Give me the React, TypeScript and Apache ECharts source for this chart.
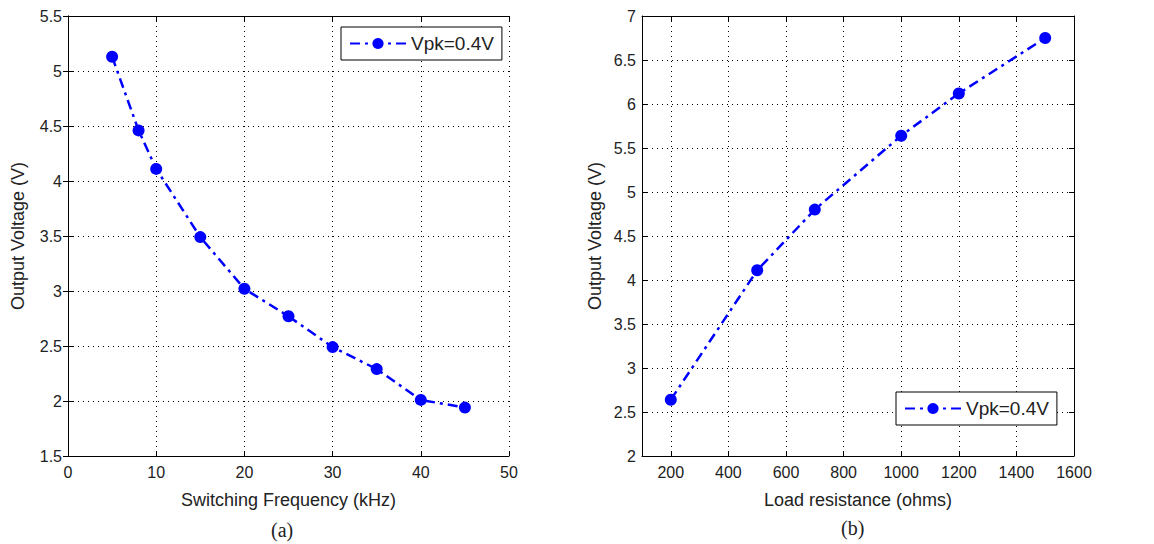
import React, { useEffect, useRef } from "react";
import * as echarts from "echarts";

const freqKHz = [5, 8, 10, 15, 20, 25, 30, 35, 40, 45];
const voltsA = [5.13, 4.46, 4.11, 3.49, 3.02, 2.77, 2.49, 2.29, 2.01, 1.94];
const loadOhms = [200, 500, 700, 1000, 1200, 1500];
const voltsB = [2.64, 4.11, 4.8, 5.64, 6.12, 6.75];
const xTicksB = [200, 400, 600, 800, 1000, 1200, 1400, 1600];
const seriesName = "Vpk=0.4V";

const FONT = "'Liberation Sans', Arial, sans-serif";
const TXT = "#222";

export default function App() {
  const ref = useRef<HTMLDivElement>(null);
  useEffect(() => {
    document.body.style.margin = "0";
    const chart = echarts.init(ref.current!, null, { renderer: "svg" });
    const label = { color: TXT, fontFamily: FONT, fontSize: 16 };
    const fmt = (v: number) => String(v);
    const split = { show: true, lineStyle: { color: "#000", type: [1, 4] as any, width: 1 } };
    const tick = { inside: true, length: 5, lineStyle: { color: "#000" } };
    const line = { lineStyle: { color: "#000", width: 1 } };
    const mainX = (gi: number, min: number, max: number, interval: number | undefined, name: string, extra: any = {}) => ({
      type: "value", gridIndex: gi, min, max, interval, name,
      nameLocation: "middle", nameGap: 35,
      nameTextStyle: { ...label, fontSize: 18 },
      axisLine: line, axisTick: tick, splitLine: split,
      axisLabel: { ...label, margin: 8, formatter: fmt }, ...extra,
    });
    const topX = (gi: number, min: number, max: number, interval: number | undefined, extra: any = {}) => ({
      type: "value", gridIndex: gi, min, max, interval, position: "top",
      axisLine: line, axisTick: tick, splitLine: { show: false }, axisLabel: { show: false }, ...extra,
    });
    const mainY = (gi: number, min: number, max: number, nameGap: number) => ({
      type: "value", gridIndex: gi, min, max, interval: 0.5, name: "Output Voltage (V)",
      nameLocation: "middle", nameGap, nameRotate: 90,
      nameTextStyle: { ...label, fontSize: 18 },
      axisLine: line, axisTick: tick, splitLine: split,
      axisLabel: { ...label, margin: 6, formatter: fmt },
    });
    const rightY = (gi: number, min: number, max: number) => ({
      type: "value", gridIndex: gi, min, max, interval: 0.5, position: "right",
      axisLine: line, axisTick: tick, splitLine: { show: false }, axisLabel: { show: false },
    });
    const seriesStyle = {
      type: "line", name: seriesName, symbol: "circle", symbolSize: 12,
      itemStyle: { color: "#0000ff" },
      lineStyle: { color: "#0000ff", width: 2.5, type: [10, 5, 3, 5] as any },
    };
    const customB = { axisTick: { ...tick, customValues: xTicksB }, axisLabel: { ...label, margin: 8, formatter: fmt, customValues: xTicksB } };
    const legendBase = {
      data: [seriesName], orient: "vertical",
      borderColor: "#000", borderWidth: 1, padding: [7, 8, 7, 8],
      itemWidth: 56, itemHeight: 14, itemGap: 4,
      textStyle: { ...label, fontSize: 19 }, selectedMode: false,
      backgroundColor: "#fff",
    };
    chart.setOption({
      animation: false,
      backgroundColor: "#fff",
      grid: [
        { left: 68, top: 16, width: 441, height: 440 },
        { left: 642, top: 16, width: 432, height: 440 },
      ],
      xAxis: [
        mainX(0, 0, 50, 10, "Switching Frequency (kHz)"),
        topX(0, 0, 50, 10),
        mainX(1, 100, 1600, undefined, "Load resistance (ohms)", customB),
        topX(1, 100, 1600, undefined, { axisTick: { ...tick, customValues: xTicksB }, axisLabel: { show: false, customValues: xTicksB } }),
      ],
      yAxis: [
        mainY(0, 1.5, 5.5, 41),
        rightY(0, 1.5, 5.5),
        mainY(1, 2, 7, 38),
        rightY(1, 2, 7),
      ],
      legend: [
        { ...legendBase, left: 341, top: 27 },
        { ...legendBase, left: 896, top: 392 },
      ],
      graphic: [
        { type: "text", left: 271, top: 520, style: { text: "(a)", font: "20px 'Liberation Serif', serif", fill: "#222" } },
        { type: "text", left: 841, top: 518, style: { text: "(b)", font: "20px 'Liberation Serif', serif", fill: "#222" } },
      ],
      series: [
        { ...seriesStyle, xAxisIndex: 0, yAxisIndex: 0, data: freqKHz.map((x, i) => [x, voltsA[i]]) },
        { ...seriesStyle, xAxisIndex: 2, yAxisIndex: 2, data: loadOhms.map((x, i) => [x, voltsB[i]]) },
      ],
    });
    return () => chart.dispose();
  }, []);
  return <div ref={ref} style={{ width: 1154, height: 544 }} />;
}
